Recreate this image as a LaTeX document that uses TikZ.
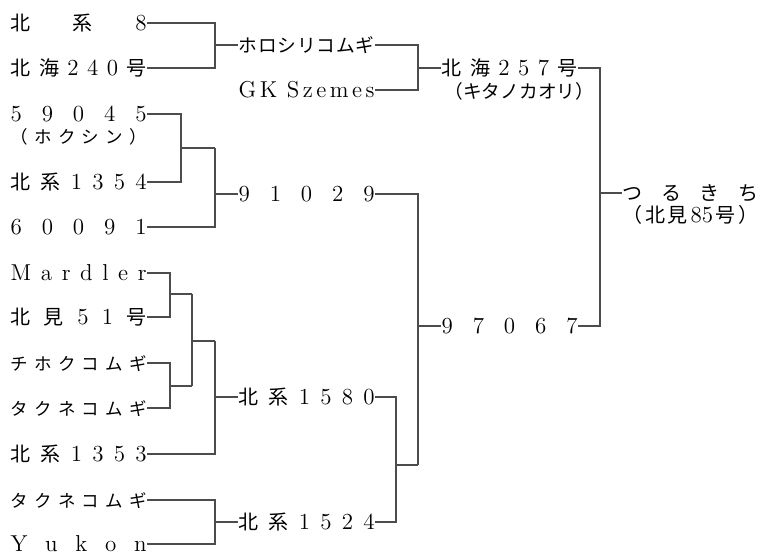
\documentclass[tikz,border=0pt]{standalone}
\usepackage{fontspec}
\newfontfamily\jp{Noto Sans CJK JP}[Scale=0.87]
\newfontfamily\kn{Noto Sans CJK JP}[Scale=0.76]
\newcommand{\wb}[2][68pt]{\makebox[#1][s]{\spaceskip=0pt plus 1fil\relax #2}}
\tikzset{
    	every node/.append style={font=\fontsize{11.5}{14}\selectfont}}

\begin{document}
\begin{tikzpicture}
  [x=0.5pt, y=-0.5pt, line width=0.6pt,
  	every node/.append style={anchor=west, inner sep=0pt, text height=7.4pt, text depth=0pt},
  	tight/.style={font=\fontsize{12.3}{14}\selectfont},
  	bracket/.style={draw=black!70}
  ]
  \useasboundingbox (0,0) rectangle (760,555);
  % left column
  \node (a1) at (10,23) {\wb{\jp 北 系 \rmfamily 8}};
  \node (a2) at (10,68) {\wb{\jp 北 海 \rmfamily 2 4 0 \jp 号}};
  \node (a3) at (10,114) {\wb{5 9 0 4 5}};
  \node (a3s) at (10,136) {\wb{\kn （ ホ ク シ ン ）}};
  \node (a4) at (10,182) {\wb{\jp 北 系 \rmfamily 1 3 5 4}};
  \node (a5) at (10,227) {\wb{6 0 0 9 1}};
  \node (a6) at (10,273) {\wb{M a r d l e r}};
  \node (a7) at (10,317) {\wb{\jp 北 見 \rmfamily 5 1 \jp 号}};
  \node (a8) at (10,363) {\wb{\kn チ ホ ク コ ム ギ}};
  \node (a9) at (10,408) {\wb{\kn タ ク ネ コ ム ギ}};
  \node (a10) at (10,454) {\wb{\jp 北 系 \rmfamily 1 3 5 3}};
  \node (a11) at (10,500) {\wb{\kn タ ク ネ コ ム ギ}};
  \node (a12) at (10,544) {\wb{Y u k o n}};
  % middle column
  \node [tight] (m1) at (238,45) {\wb{\kn ホ ロ シ リ コ ム ギ}};
  \node (m2) at (238,90) {\wb{G K\hspace{3pt} S z e m e s}};
  \node (m3) at (238,194) {\wb{9 1 0 2 9}};
  \node (m4) at (238,397) {\wb{\jp 北 系 \rmfamily 1 5 8 0}};
  \node (m5) at (238,522) {\wb{\jp 北 系 \rmfamily 1 5 2 4}};
  % right columns
  \node (t1) at (441,68) {\wb{\jp 北 海 \rmfamily 2 5 7 \jp 号}};
  \node [tight] (t1s) at (444,91) {\wb[66pt]{\kn （ キ タ ノ カ オ リ ）}};
  \node (t2) at (441,326) {\wb{9 7 0 6 7}};
  \node (r1) at (622,193) {\wb{\jp つ る き ち}};
  \node (r1s) at (622,215) {\wb{\jp （ 北 見 \rmfamily 85 \jp 号 ）}};

  % junctions
  \coordinate (p1) at (215,148);
  \coordinate (p2) at (192,294);
  \coordinate (p3) at (192,386);
  \coordinate (p4) at (215,341);
  \coordinate (p5) at (418,465);
  \coordinate (v1) at (170,0);
  \coordinate (v2) at (181,0);
  \coordinate (v3) at (192,0);
  \coordinate (v4) at (215,0);
  \coordinate (v5) at (396,0);
  \coordinate (v6) at (418,0);
  \coordinate (v7) at (600,0);

  \foreach \hi/\lo/\out/\vx in {a1.east/a2.east/m1.west/v4, a3.east/a4.east/p1/v2,
      p1/a5.east/m3.west/v4, a6.east/a7.east/p2/v1, a8.east/a9.east/p3/v1,
      p2/p3/p4/v3, p4/a10.east/m4.west/v4, a11.east/a12.east/m5.west/v4,
      m1.east/m2.east/t1.west/v6, m4.east/m5.east/p5/v5, m3.east/p5/t2.west/v6,
      t1.east/t2.east/r1.west/v7}
    \draw[bracket] (\hi) -| (\out -| \vx) |- (\lo) (\out -| \vx) -- (\out);
\end{tikzpicture}
\end{document}
